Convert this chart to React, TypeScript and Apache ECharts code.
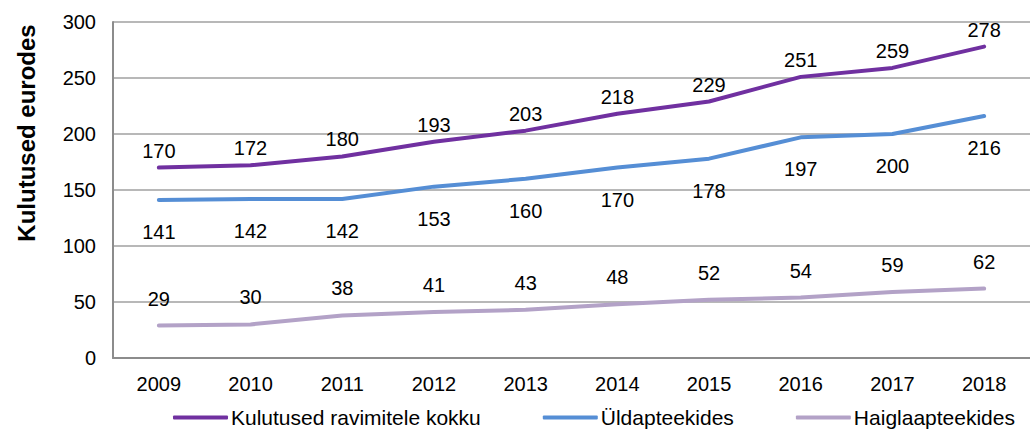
import React, { useEffect, useRef } from "react";
import * as echarts from "echarts";

const years = ["2009", "2010", "2011", "2012", "2013", "2014", "2015", "2016", "2017", "2018"];
const total = [170, 172, 180, 193, 203, 218, 229, 251, 259, 278];
const general = [141, 142, 142, 153, 160, 170, 178, 197, 200, 216];
const hospital = [29, 30, 38, 41, 43, 48, 52, 54, 59, 62];
const yTitle = "Kulutused eurodes";

const FONT = "Liberation Sans, Arial, sans-serif";

export default function App() {
  const ref = useRef<HTMLDivElement>(null);
  useEffect(() => {
    const chart = echarts.init(ref.current!, undefined, { renderer: "svg" });
    const labelStyle = { fontSize: 20, color: "#000", fontFamily: FONT };
    const mkSeries = (name: string, data: number[], color: string, label: any) => ({
      name,
      type: "line",
      data,
      symbol: "circle",
      symbolSize: 0,
      showSymbol: true,
      lineStyle: { color, width: 4, cap: "round" },
      itemStyle: { color },
      emphasis: { disabled: true },
      label: { show: true, ...labelStyle, ...label },
    });
    chart.setOption({
      animation: false,
      grid: { left: 113, top: 22, width: 931, height: 336, containLabel: false },
      graphic: [
        {
          type: "text",
          x: 26,
          y: 133,
          rotation: Math.PI / 2,
          style: {
            text: yTitle,
            fontSize: 24,
            fontWeight: "bold",
            fill: "#000",
            fontFamily: FONT,
            align: "center",
            verticalAlign: "middle",
          },
        },
      ],
      legend: {
        bottom: 0,
        left: 168,
        itemWidth: 55,
        itemHeight: 4,
        itemGap: 62,
        icon: "roundRect",
        textStyle: { fontSize: 21, color: "#000", fontFamily: FONT, padding: [0, 0, 0, -2] },
        data: ["Kulutused ravimitele kokku", "Üldapteekides", "Haiglaapteekides"],
      },
      xAxis: {
        type: "category",
        data: years,
        boundaryGap: true,
        axisLine: { lineStyle: { color: "#8c8c8c", width: 2 } },
        axisTick: { show: false },
        axisLabel: { fontSize: 20, color: "#000", fontFamily: FONT, margin: 16 },
      },
      yAxis: {
        type: "value",
        min: 0,
        max: 300,
        interval: 50,
        axisLine: { show: true, lineStyle: { color: "#8c8c8c", width: 2 } },
        axisTick: { show: false },
        axisLabel: { fontSize: 20, color: "#000", fontFamily: FONT, margin: 17 },
        splitLine: { lineStyle: { color: "#a0a0a0", width: 1.5 } },
      },
      series: [
        mkSeries("Kulutused ravimitele kokku", total, "#7030A0", { position: "top", distance: 7 }),
        mkSeries("Üldapteekides", general, "#558ED5", { position: "bottom", distance: 22 }),
        mkSeries("Haiglaapteekides", hospital, "#B3A2C7", { position: "top", distance: 17 }),
      ],
    });
    return () => chart.dispose();
  }, []);
  return (
    <div
      ref={ref}
      style={{ position: "absolute", left: 0, top: 0, width: 1030, height: 433, background: "#fff" }}
    />
  );
}
